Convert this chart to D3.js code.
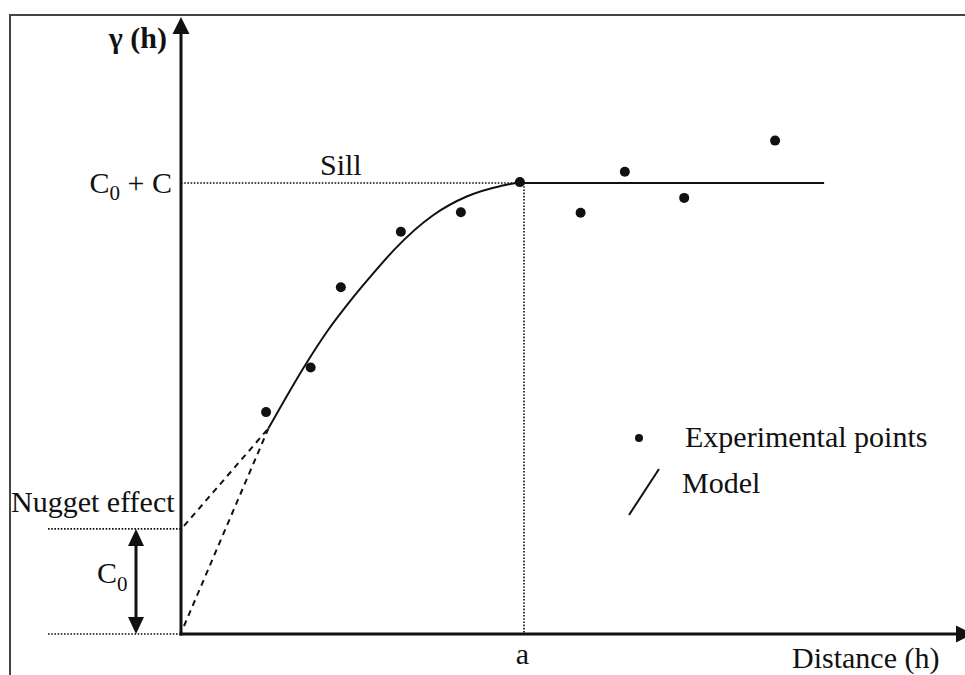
<!DOCTYPE html>
<html>
<head>
<meta charset="utf-8">
<script src="https://cdn.jsdelivr.net/npm/d3@7"></script>
<style>
  html, body { margin: 0; padding: 0; background: #fff; }
  svg { display: block; }
  text { font-family: "Liberation Serif", "Times New Roman", serif; fill: #111; }
</style>
</head>
<body>
<script>
// ---- data ----
const expDistance = [24.8, 37.8, 46.6, 64.1, 81.6, 98.8, 116.5, 129.4, 146.7, 173.2];
const expGamma    = [49.2, 59.1, 76.9, 89.2, 93.5, 100.2, 93.4, 102.5, 96.7, 109.4];
const modelDistance = [25.5, 36.6, 42.9, 49.3, 56.1, 62.4, 73.6, 83.3, 93.0, 98.8, 110.5, 187.5];
const modelGamma    = [45.6, 60.1, 67.4, 73.8, 80.0, 85.4, 92.9, 97.0, 99.3, 100, 100, 100];
const nugget = 23.3;      // C0
const sill = 100;         // C0 + C
const range = 100;        // a
const xTickValues = [range];
const xTickLabels = ["a"];
const legendLabels = ["Experimental points", "Model"];

const W = 965, H = 675;
const svg = d3.select("body").append("svg").attr("width", W).attr("height", H);

const x = d3.scaleLinear().domain([0, 100]).range([181, 524]);
const y = d3.scaleLinear().domain([0, 100]).range([634, 183]);
const ink = "#111";

// frame (top + left border of the original figure)
svg.append("path").attr("d", `M10,${H} V15 H${W}`).attr("fill", "none")
  .attr("stroke", "#444").attr("stroke-width", 2);

// dotted guide lines
const dotted = svg.append("g").attr("stroke", ink).attr("stroke-width", 1.6)
  .attr("stroke-dasharray", "1.6,1.6").attr("fill", "none");
dotted.append("line").attr("x1", x(0)).attr("x2", x(range) - 4).attr("y1", y(sill)).attr("y2", y(sill));
dotted.append("line").attr("x1", x(range)).attr("x2", x(range)).attr("y1", y(sill)).attr("y2", y(0));
dotted.append("line").attr("x1", 48).attr("x2", x(0)).attr("y1", y(nugget)).attr("y2", y(nugget));
dotted.append("line").attr("x1", 48).attr("x2", x(0)).attr("y1", y(0)).attr("y2", y(0));

// dashed extrapolations
const dashed = svg.append("g").attr("stroke", ink).attr("stroke-width", 2)
  .attr("stroke-dasharray", "6,5").attr("fill", "none");
dashed.append("line").attr("x1", x(0) + 3).attr("y1", y(nugget) - 3)
  .attr("x2", x(modelDistance[0])).attr("y2", y(modelGamma[0]));
dashed.append("line").attr("x1", x(0) + 3).attr("y1", y(0) - 8)
  .attr("x2", x(modelDistance[0])).attr("y2", y(modelGamma[0]));

// axes
const axes = svg.append("g").attr("fill", ink).attr("stroke", ink);
axes.append("line").attr("x1", x(0)).attr("x2", x(0)).attr("y1", y(0) + 1.5).attr("y2", 33)
  .attr("stroke-width", 3);
axes.append("path").attr("d", `M${x(0)},17 L${x(0) - 8.5},34 L${x(0) + 8.5},34 Z`).attr("stroke", "none");
axes.append("line").attr("x1", x(0) - 1.5).attr("x2", 958).attr("y1", y(0)).attr("y2", y(0))
  .attr("stroke-width", 3);
axes.append("path").attr("d", `M973,${y(0)} L956,${y(0) - 8.5} L956,${y(0) + 8.5} Z`).attr("stroke", "none");

// x tick label "a" via d3 axis
const xAxis = d3.axisBottom(x).tickValues(xTickValues)
  .tickFormat((d, i) => xTickLabels[i]).tickSize(0).tickPadding(9);
const gx = svg.append("g").attr("transform", `translate(-2,${y(0)})`).call(xAxis);
gx.select(".domain").remove();
gx.selectAll("text").attr("font-size", 30).attr("font-family", "Liberation Serif").attr("fill", ink);

// C0 double arrow
const ax = 136;
svg.append("line").attr("x1", ax).attr("x2", ax).attr("y1", y(nugget) + 14).attr("y2", y(0) - 14)
  .attr("stroke", ink).attr("stroke-width", 3);
svg.append("path").attr("d", `M${ax},${y(nugget)} L${ax - 8},${y(nugget) + 17} L${ax + 8},${y(nugget) + 17} Z`).attr("fill", ink);
svg.append("path").attr("d", `M${ax},${y(0)} L${ax - 8},${y(0) - 17} L${ax + 8},${y(0) - 17} Z`).attr("fill", ink);

// model curve
const model = modelDistance.map((d, i) => [d, modelGamma[i]]);
svg.append("path").datum(model)
  .attr("d", d3.line().x(d => x(d[0])).y(d => y(d[1])).curve(d3.curveMonotoneX))
  .attr("fill", "none").attr("stroke", ink).attr("stroke-width", 2);

// experimental points
svg.append("g").selectAll("circle").data(expDistance).join("circle")
  .attr("cx", d => x(d)).attr("cy", (d, i) => y(expGamma[i])).attr("r", 5).attr("fill", ink);

// labels
const fs = 30;
svg.append("text").attr("x", 167).attr("y", 48).attr("text-anchor", "end")
  .attr("font-size", 30).attr("font-weight", "bold").text("γ (h)");

const c0c = svg.append("text").attr("x", 172).attr("y", 193).attr("text-anchor", "end").attr("font-size", fs);
c0c.append("tspan").text("C");
c0c.append("tspan").attr("font-size", 21).attr("dy", 7).text("0");
c0c.append("tspan").attr("dy", -7).text(" + C");

svg.append("text").attr("x", 320).attr("y", 175).attr("font-size", fs).text("Sill");
svg.append("text").attr("x", 11).attr("y", 512).attr("font-size", fs).text("Nugget effect");

const c0 = svg.append("text").attr("x", 97).attr("y", 583).attr("font-size", fs);
c0.append("tspan").text("C");
c0.append("tspan").attr("font-size", 21).attr("dy", 8).text("0");

svg.append("text").attr("x", 792).attr("y", 668).attr("font-size", fs).text("Distance (h)");

// legend
svg.append("circle").attr("cx", 639).attr("cy", 438).attr("r", 4).attr("fill", ink);
svg.append("text").attr("x", 685).attr("y", 447).attr("font-size", fs).text(legendLabels[0]);
svg.append("line").attr("x1", 629).attr("y1", 515).attr("x2", 659).attr("y2", 469)
  .attr("stroke", ink).attr("stroke-width", 2);
svg.append("text").attr("x", 682).attr("y", 493).attr("font-size", fs).text(legendLabels[1]);
</script>
</body>
</html>
